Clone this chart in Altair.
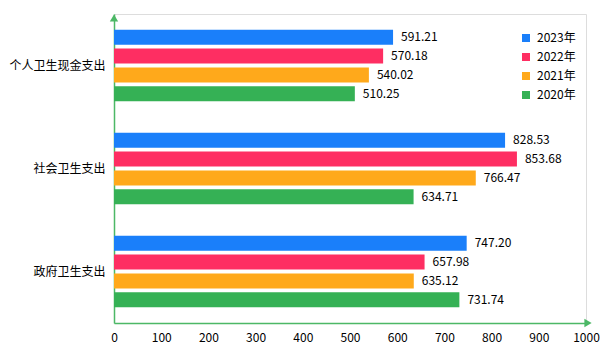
import altair as alt
import pandas as pd

categories = ["个人卫生现金支出", "社会卫生支出", "政府卫生支出"]
years = ["2023年", "2022年", "2021年", "2020年"]
colors = ["#1a7ffa", "#fe2e62", "#ffa91b", "#35b155"]
v2023 = [591.21, 828.53, 747.20]
v2022 = [570.18, 853.68, 657.98]
v2021 = [540.02, 766.47, 635.12]
v2020 = [510.25, 634.71, 731.74]
x_ticks = [0, 100, 200, 300, 400, 500, 600, 700, 800, 900, 1000]

rows = []
for yr, vals in zip(years, [v2023, v2022, v2021, v2020]):
    for c, v in zip(categories, vals):
        rows.append({"cat": c, "year": yr, "value": v})
df = pd.DataFrame(rows)

FONT = "Noto Sans CJK SC"
AXIS_GREEN = "#4cb866"

y_enc = alt.Y("cat:N", sort=categories, title=None,
              scale=alt.Scale(paddingInner=0.27, paddingOuter=0.135),
              axis=alt.Axis(ticks=False, domainColor=AXIS_GREEN, domainWidth=1.5,
                            labelFont=FONT, labelFontSize=12, labelColor="#000",
                            labelPadding=9))
yoff = alt.YOffset("year:N", sort=years,
                   scale=alt.Scale(paddingInner=0.2, paddingOuter=0.1))
x_enc = alt.X("value:Q", title=None,
              scale=alt.Scale(domain=[0, 1000], nice=False),
              axis=alt.Axis(values=x_ticks, format="d", ticks=False, grid=False,
                            domainColor=AXIS_GREEN, domainWidth=1.5,
                            labelFont=FONT, labelFontSize=12, labelColor="#000",
                            labelPadding=9, labelFlush=False))

bars = alt.Chart(df).mark_bar(size=15).encode(
    x=x_enc, y=y_enc, yOffset=yoff,
    color=alt.Color("year:N", sort=years,
                    scale=alt.Scale(domain=years, range=colors),
                    legend=alt.Legend(title=None, orient="none", legendX=406, legendY=18,
                                      symbolType="square", symbolSize=64,
                                      symbolStrokeWidth=0,
                                      labelFont=FONT, labelFontSize=12, labelColor="#000",
                                      rowPadding=7, labelOffset=5)),
)

labels = alt.Chart(df).mark_text(align="left", baseline="middle", dx=8,
                                 font=FONT, fontSize=12, color="#000").encode(
    x="value:Q", y=alt.Y("cat:N", sort=categories), yOffset=yoff,
    text=alt.Text("value:Q", format=".2f"),
)

arrow_df = pd.DataFrame({"k": [0]})
x_arrow = alt.Chart(arrow_df).mark_point(shape="triangle-right", filled=True, opacity=1,
                                         size=70, color=AXIS_GREEN).encode(
    x=alt.value(474), y=alt.value(309))
y_arrow = alt.Chart(arrow_df).mark_point(shape="triangle-up", filled=True, opacity=1,
                                         size=70, color=AXIS_GREEN).encode(
    x=alt.value(0), y=alt.value(4))

chart = alt.layer(bars, labels, x_arrow, y_arrow).properties(
    width=472, height=309,
    autosize=alt.AutoSizeParams(type="none"),
    padding={"left": 114, "top": 14, "right": 19, "bottom": 34},
).configure_view(stroke=None).configure(background="white")

chart.save("out.html", embed_options={"renderer": "svg", "actions": False})
